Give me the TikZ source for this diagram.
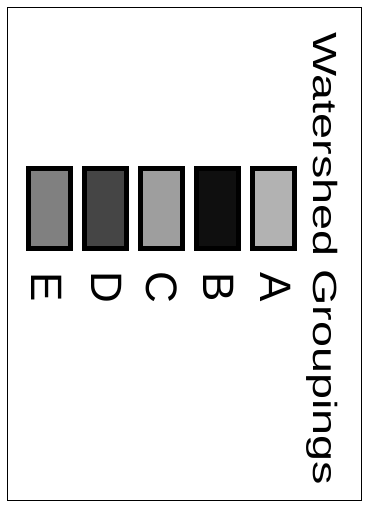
\documentclass[tikz,border=0pt]{standalone}
\usepackage{fontspec}
\setmainfont{Liberation Sans}
\usepackage{graphicx}
\definecolor{grpA}{gray}{0.70}
\definecolor{grpB}{gray}{0.06}
\definecolor{grpC}{gray}{0.62}
\definecolor{grpD}{gray}{0.27}
\definecolor{grpE}{gray}{0.50}
\tikzset{
  swatch/.style={draw=black, line width=5pt, minimum width=42pt, minimum height=80pt, inner sep=0pt},
  grplabel/.style={rotate=-90, inner sep=0pt, font=\fontsize{44}{44}\selectfont},
  frame/.style={draw=black, line width=0.9pt}
}
\begin{document}
\begin{tikzpicture}[x=1pt,y=1pt]
\useasboundingbox (0,0) rectangle (365,-508);
\draw[frame] (7,-7) rectangle (361,-500);
\node[rotate=-90, anchor=base west, inner sep=0pt, font=\fontsize{33.5}{33.5}\selectfont] (title) at (313,-32) {\resizebox{453pt}{\height}{Watershed Groupings}};
\node[swatch, fill=grpA] (boxA) at (273,-208.5) {};
\node[swatch, fill=grpB] (boxB) at (217,-208.5) {};
\node[swatch, fill=grpC] (boxC) at (161,-208.5) {};
\node[swatch, fill=grpD] (boxD) at (105,-208.5) {};
\node[swatch, fill=grpE] (boxE) at (49,-208.5) {};
\node[grplabel] (labA) at (276,-287) {A};
\node[grplabel] (labB) at (219,-287) {B};
\node[grplabel] (labC) at (162,-287) {C};
\node[grplabel] (labD) at (107,-287) {D};
\node[grplabel] (labE) at (47,-287) {E};
\end{tikzpicture}
\end{document}
